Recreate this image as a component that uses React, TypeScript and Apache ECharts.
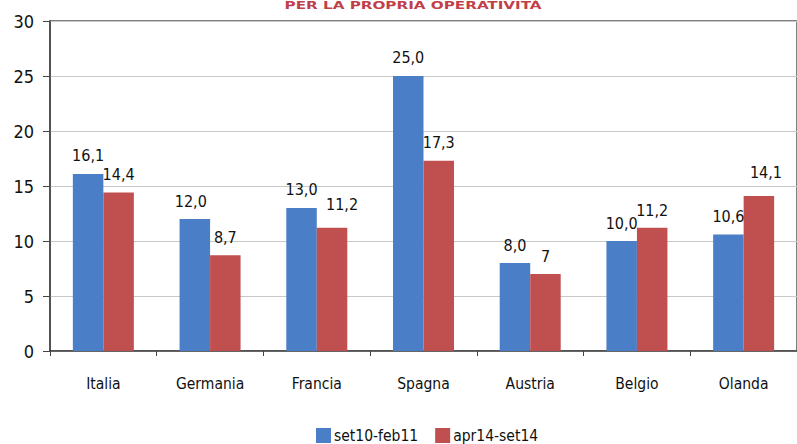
import React, { useEffect, useRef } from "react";
import * as echarts from "echarts";

const categories = ["Italia", "Germania", "Francia", "Spagna", "Austria", "Belgio", "Olanda"];
const seriesNames = ["set10-feb11", "apr14-set14"];
const valuesA = [16.1, 12.0, 13.0, 25.0, 8.0, 10.0, 10.6];
const valuesB = [14.4, 8.7, 11.2, 17.3, 7, 11.2, 14.1];
const labelsA = ["16,1", "12,0", "13,0", "25,0", "8,0", "10,0", "10,6"];
const labelsB = ["14,4", "8,7", "11,2", "17,3", "7", "11,2", "14,1"];
const yTicks = [0, 5, 10, 15, 20, 25, 30];
const titleText = "PER LA PROPRIA OPERATIVITÀ";

const FONT = "'Liberation Sans Narrow', 'Arial Narrow', 'DejaVu Sans Condensed', sans-serif";
const BLUE = "#4A7EC6";
const RED = "#C0504F";

// label nudges (dx, dy) per bar, styling only
const nudgeA: Record<number, number[]> = { 1: [-4, 0], 2: [0, -1], 3: [0, -1] };
const nudgeB: Record<number, number[]> = { 2: [10, -5], 5: [0, 1], 6: [7, -5] };

function buildData(values: number[], labels: string[], nudge: Record<number, number[]>) {
  return values.map((v, i) => ({
    value: v,
    label: { formatter: labels[i], offset: nudge[i] || [0, 0] },
  }));
}

function measure(text: string, font: string): number {
  try {
    const ctx = document.createElement("canvas").getContext("2d");
    if (!ctx) return 150;
    ctx.font = font;
    return ctx.measureText(text).width || 150;
  } catch (e) {
    return 150;
  }
}

export default function App() {
  const ref = useRef<HTMLDivElement>(null);
  useEffect(() => {
    if (!ref.current) return;
    const chart = echarts.init(ref.current, null, { renderer: "svg" });
    const titleFont = `bold 10px ${FONT}`;
    const titleW = measure(titleText, titleFont);
    const titleScale = 257 / titleW;
    const labelStyle = {
      show: true,
      position: "top" as const,
      distance: 10,
      color: "#111",
      fontSize: 16,
      fontFamily: FONT,
    };
    chart.setOption({
      animation: false,
      backgroundColor: "#fff",
      textStyle: { fontFamily: FONT },
      graphic: [
        {
          type: "text",
          x: 413,
          y: 0,
          scaleX: titleScale,
          style: {
            text: titleText,
            fill: "#C0404A",
            font: titleFont,
            textAlign: "center",
            textVerticalAlign: "top",
            verticalAlign: "top",
          },
        },
      ],
      grid: {
        left: 50,
        top: 21,
        width: 750,
        height: 330,
        show: true,
        borderColor: "#555",
        borderWidth: 1.5,
      },
      legend: {
        data: seriesNames,
        left: 311,
        top: 422,
        itemWidth: 15,
        itemHeight: 15,
        itemGap: 17,
        icon: "rect",
        textStyle: { fontSize: 15.5, lineHeight: 17, color: "#111", fontFamily: FONT, padding: [0, 0, 0, -2] },
      },
      xAxis: {
        type: "category",
        data: categories,
        boundaryGap: true,
        axisLine: { show: true, lineStyle: { color: "#444", width: 1.5 } },
        axisTick: { show: true, length: 5, lineStyle: { color: "#444" } },
        axisLabel: { color: "#111", fontSize: 15.5, fontFamily: FONT, margin: 25 },
        splitLine: { show: false },
      },
      yAxis: {
        type: "value",
        min: yTicks[0],
        max: yTicks[yTicks.length - 1],
        interval: 5,
        axisLine: { show: true, lineStyle: { color: "#444", width: 1.5 } },
        axisTick: { show: true, length: 7, lineStyle: { color: "#444" } },
        axisLabel: { color: "#111", fontSize: 18, fontFamily: FONT, margin: 16 },
        splitLine: { show: true, lineStyle: { color: "#C8C8C8", width: 1.2 } },
      },
      series: [
        {
          name: seriesNames[0],
          type: "bar",
          data: buildData(valuesA, labelsA, nudgeA),
          barWidth: 30.5,
          barGap: "0%",
          itemStyle: { color: BLUE },
          label: labelStyle,
        },
        {
          name: seriesNames[1],
          type: "bar",
          data: buildData(valuesB, labelsB, nudgeB),
          barWidth: 30.5,
          barGap: "0%",
          itemStyle: { color: RED },
          label: labelStyle,
        },
      ],
    });
    return () => chart.dispose();
  }, []);
  return <div ref={ref} style={{ width: 797, height: 444, position: "absolute", left: 0, top: 0 }} />;
}
